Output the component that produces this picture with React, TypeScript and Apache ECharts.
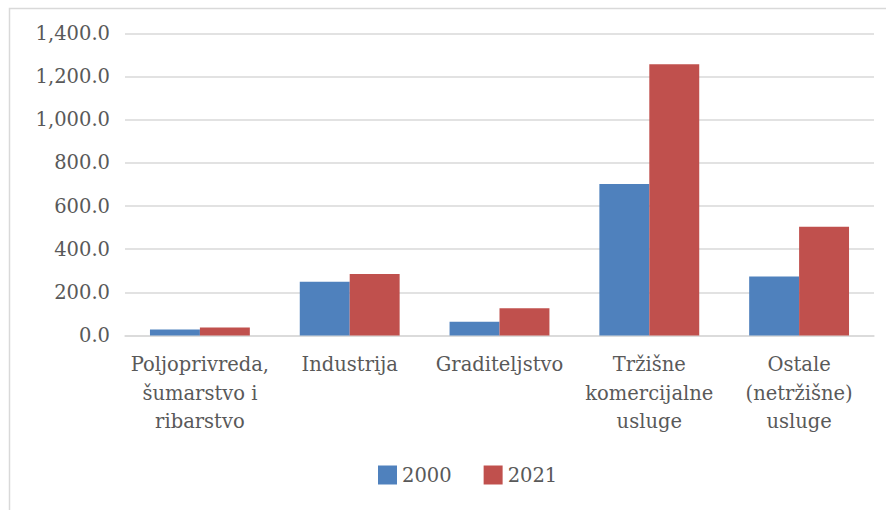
import React, { useEffect, useRef } from "react";
import * as echarts from "echarts";

const categories = [
  "Poljoprivreda,\nšumarstvo i\nribarstvo",
  "Industrija",
  "Graditeljstvo",
  "Tržišne\nkomercijalne\nusluge",
  "Ostale\n(netržišne)\nusluge",
];
const series2000 = [28, 249, 64, 702, 273];
const series2021 = [37, 285, 126, 1257, 504];
const seriesNames = ["2000", "2021"];
const colors = ["#4F81BD", "#C0504D"];

const FONT = "DejaVu Serif";
const TEXT = "#595959";
const FS = 19.5;

export default function App() {
  const ref = useRef<HTMLDivElement>(null);
  useEffect(() => {
    if (!ref.current) return;
    const chart = echarts.init(ref.current, undefined, { renderer: "svg" });
    chart.setOption({
      animation: false,
      backgroundColor: "#ffffff",
      textStyle: { fontFamily: FONT, color: TEXT },
      graphic: [
        {
          type: "rect",
          shape: { x: 9.5, y: 8.5, width: 1000, height: 1000 },
          style: { fill: "none", stroke: "#d9d9d9", lineWidth: 1.5 },
          silent: true,
          z: -10,
        },
      ],
      grid: { left: 125, right: 12, top: 33.5, bottom: 174.5, containLabel: false },
      legend: {
        data: seriesNames,
        left: 378,
        top: 465,
        padding: 0,
        itemWidth: 19,
        itemHeight: 19,
        itemGap: 32,
        icon: "rect",
        textStyle: { fontFamily: FONT, fontSize: FS, color: TEXT },
      },
      xAxis: {
        type: "category",
        data: categories,
        axisLine: { show: true, lineStyle: { color: "#d9d9d9", width: 1.5 } },
        axisTick: { show: false },
        axisLabel: {
          interval: 0,
          margin: 15,
          fontFamily: FONT,
          fontSize: FS,
          lineHeight: 28.5,
          color: TEXT,
          align: "center",
        },
      },
      yAxis: {
        type: "value",
        min: 0,
        max: 1400,
        interval: 200,
        axisLine: { show: false },
        axisTick: { show: false },
        splitLine: { lineStyle: { color: "#d9d9d9", width: 1.5 } },
        axisLabel: {
          margin: 15,
          fontFamily: FONT,
          fontSize: FS,
          color: TEXT,
          formatter: (v: number) =>
            v.toLocaleString("en-US", { minimumFractionDigits: 1, maximumFractionDigits: 1 }),
        },
      },
      series: [
        {
          name: seriesNames[0],
          type: "bar",
          data: series2000,
          barGap: "0%",
          barCategoryGap: "33.33%",
          itemStyle: { color: colors[0] },
        },
        {
          name: seriesNames[1],
          type: "bar",
          data: series2021,
          barGap: "0%",
          barCategoryGap: "33.33%",
          itemStyle: { color: colors[1] },
        },
      ],
    });
    return () => chart.dispose();
  }, []);
  return (
    <div style={{ position: "fixed", left: 0, top: 0, width: 886, height: 510, overflow: "hidden" }}>
      <div ref={ref} style={{ width: 886, height: 510 }} />
    </div>
  );
}
